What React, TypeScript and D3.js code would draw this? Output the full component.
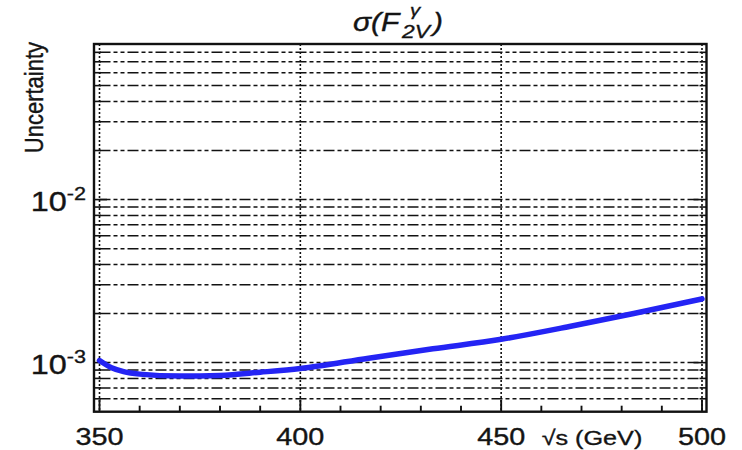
import React from "react";
import * as d3 from "d3";

const energies = [350, 353, 356, 360, 370, 380, 390, 400, 417, 433, 450, 467, 483, 500];
const uncertainty = [1.03e-3, 9.3e-4, 8.8e-4, 8.5e-4, 8.27e-4, 8.35e-4, 8.73e-4, 9.2e-4, 1.065e-3, 1.215e-3, 1.39e-3, 1.665e-3, 2.0e-3, 2.46e-3];
const xTickValues = [350, 400, 450, 500];
const yMajorTicks = [1e-2, 1e-3];
const yMajorLabels = ["-2", "-3"];

const W = 742, H = 450;
const FRAME = { left: 94, right: 706.5, top: 44, bottom: 411.7 };
const FONT = "'Liberation Sans', Arial, Helvetica, sans-serif";
const SX = 1.2;
const INK = "#141414";

export default function App() {
  const x = d3.scaleLinear().domain([350, 500]).range([99.5, 702]);
  const y = d3.scaleLog().domain([5e-4, 9e-2]).range([FRAME.bottom, FRAME.top]);
  const yGrid = y.ticks().filter((v) => v > 5.01e-4 && v < 0.0899);
  const xMinor = d3.range(350, 501, 10);
  const line = d3
    .line<number>()
    .x((_, i) => x(energies[i]))
    .y((d) => y(d))
    .curve(d3.curveMonotoneX);
  const isMajorY = (v: number) => yMajorTicks.some((m) => Math.abs(v - m) / m < 1e-6);
  const txt = { fontFamily: FONT, fill: INK, stroke: INK, strokeWidth: 0.35 } as const;

  return (
    <svg width={W} height={H} style={{ position: "absolute", left: 0, top: 0, background: "#fff" }}>
      <rect x={0} y={0} width={W} height={H} fill="#fff" />
      {/* horizontal grid */}
      {yGrid.map((v, i) => (
        <line key={"hg" + i} x1={x(350)} x2={x(500)} y1={y(v)} y2={y(v)} stroke="#111" strokeWidth={1.5} strokeDasharray="11,3,4,3,4,3" />
      ))}
      {/* vertical grid */}
      {xTickValues.map((v, i) => (
        <line key={"vg" + i} x1={x(v)} x2={x(v)} y1={FRAME.top} y2={FRAME.bottom} stroke="#111" strokeWidth={1.6} strokeDasharray="2,2" />
      ))}
      {/* left / right ticks */}
      {yGrid.map((v, i) => (
        <g key={"yt" + i}>
          <line x1={FRAME.left} x2={FRAME.left + (isMajorY(v) ? 13 : 7)} y1={y(v)} y2={y(v)} stroke="#111" strokeWidth={1.6} />
          <line x1={FRAME.right} x2={FRAME.right - (isMajorY(v) ? 13 : 7)} y1={y(v)} y2={y(v)} stroke="#111" strokeWidth={1.6} />
        </g>
      ))}
      {/* bottom ticks */}
      {xMinor.map((v, i) => (
        <line key={"xt" + i} x1={x(v)} x2={x(v)} y1={FRAME.bottom} y2={FRAME.bottom - (v % 50 === 0 ? 12 : 6)} stroke="#111" strokeWidth={1.9} />
      ))}
      {/* frame */}
      <rect x={FRAME.left} y={FRAME.top} width={FRAME.right - FRAME.left} height={FRAME.bottom - FRAME.top} fill="none" stroke="#111" strokeWidth={2.4} />
      {/* curve */}
      <path d={line(uncertainty) || ""} fill="none" stroke="#2424f4" strokeWidth={5.5} strokeLinecap="round" />
      {/* x tick labels */}
      {xTickValues.map((v, i) => (
        <g key={"xl" + i} transform={`translate(${x(v)},444.5) scale(${SX},1)`}>
          <text textAnchor="middle" fontSize={24} {...txt}>{v}</text>
        </g>
      ))}
      <g transform={`translate(592,444.5) scale(${SX},1)`}>
        <text textAnchor="middle" fontSize={21} {...txt}>√s (GeV)</text>
      </g>
      {/* y tick labels */}
      {yMajorTicks.map((v, i) => (
        <g key={"yl" + i} transform={`translate(86,${y(v) + 11}) scale(${SX},1)`}>
          <text textAnchor="end" fontSize={27} {...txt}>
            10<tspan fontSize={18} dy={-11}>{yMajorLabels[i]}</tspan>
          </text>
        </g>
      ))}
      {/* y axis title */}
      <g transform={`translate(43,42) rotate(-90)`}>
        <text textAnchor="end" fontSize={22} {...txt} transform={`scale(1,${SX})`}>Uncertainty</text>
      </g>
      {/* title */}
      <g transform={`translate(353,31) scale(${SX},1)`}>
        <text fontSize={25} fontStyle="italic" {...txt}>σ(F</text>
      </g>
      <g transform={`translate(410,16) scale(${SX},1)`}>
        <text fontSize={17} fontStyle="italic" {...txt}>γ</text>
      </g>
      <g transform={`translate(402,38) scale(${SX},1)`}>
        <text fontSize={19} fontStyle="italic" {...txt}>2V</text>
      </g>
      <g transform={`translate(433,31) scale(${SX},1)`}>
        <text fontSize={25} fontStyle="italic" {...txt}>)</text>
      </g>
    </svg>
  );
}
